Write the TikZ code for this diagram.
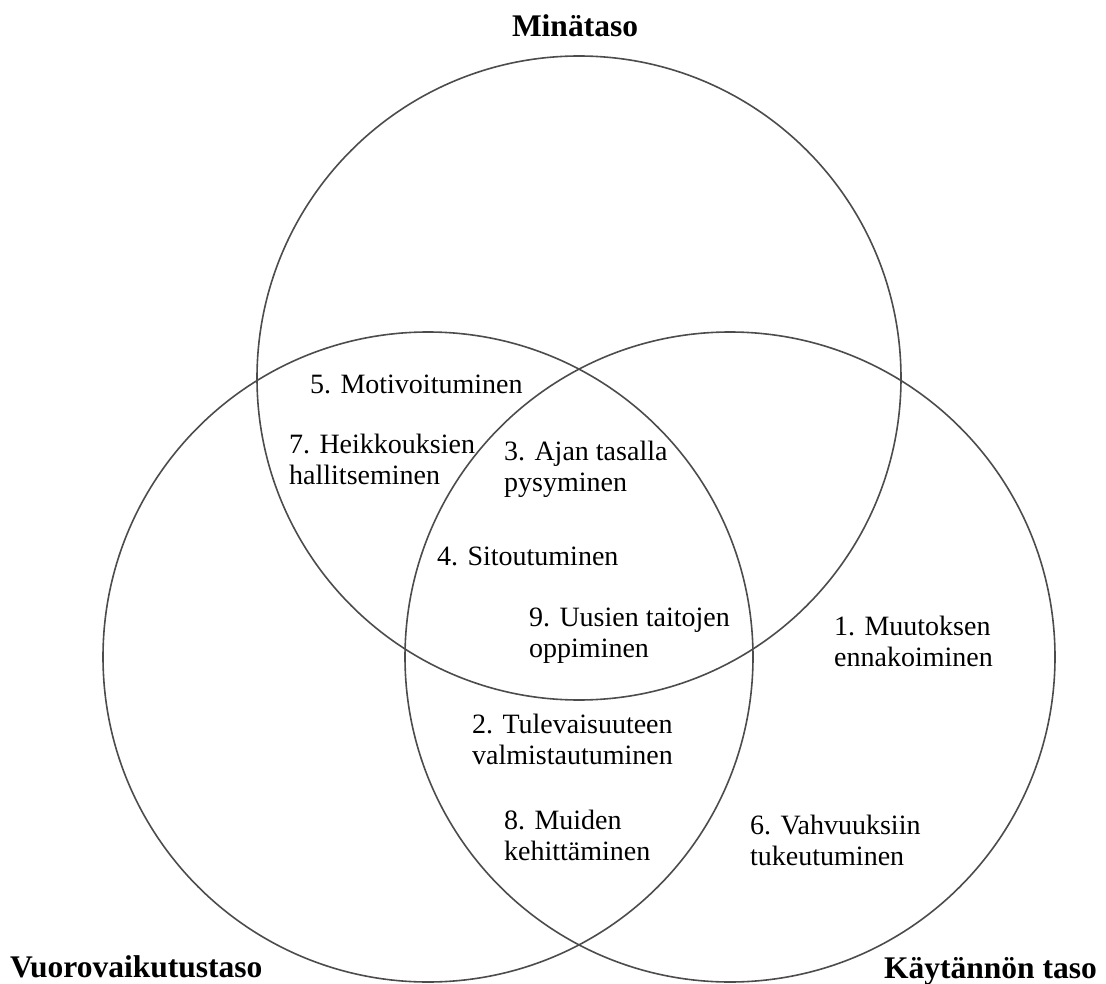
\documentclass[tikz,border=0pt]{standalone}
\usepackage{fontspec}
\setmainfont{Liberation Serif}
\begin{document}
\begin{tikzpicture}[x=1pt,y=-1pt,
  ring/.style={draw=black!70,line width=1.6pt},
  item/.style={anchor=base west,inner sep=0pt,align=left,font=\fontsize{28}{31}\selectfont},
  title/.style={inner sep=0pt,font=\fontsize{31.5}{34}\selectfont\bfseries}]
\useasboundingbox (0,0) rectangle (1106,984);
\node[ring,circle,minimum size=644pt,inner sep=0pt] (top) at (579,378) {};
\node[ring,circle,minimum size=650pt,inner sep=0pt] (left) at (428,657) {};
\node[ring,circle,minimum size=650pt,inner sep=0pt] (right) at (730,657) {};
\node[title,anchor=base] (tMina) at (575,37) {Minätaso};
\node[title,anchor=base west] (tVuoro) at (10,977) {Vuorovaikutustaso};
\node[title,anchor=base east] (tKayt) at (1097,978) {Käytännön taso};
\node[item] (i5) at (310,393) {5. Motivoituminen};
\node[item] (i7) at (289,484) {7. Heikkouksien\\hallitseminen};
\node[item] (i3) at (504,491) {3. Ajan tasalla\\pysyminen};
\node[item] (i4) at (437,565) {4. Sitoutuminen};
\node[item] (i9) at (529,657) {9. Uusien taitojen\\oppiminen};
\node[item] (i1) at (834,666) {1. Muutoksen\\ennakoiminen};
\node[item] (i2) at (472,764) {2. Tulevaisuuteen\\valmistautuminen};
\node[item] (i8) at (504,860) {8. Muiden\\kehittäminen};
\node[item] (i6) at (750,865) {6. Vahvuuksiin\\tukeutuminen};
\end{tikzpicture}
\end{document}
